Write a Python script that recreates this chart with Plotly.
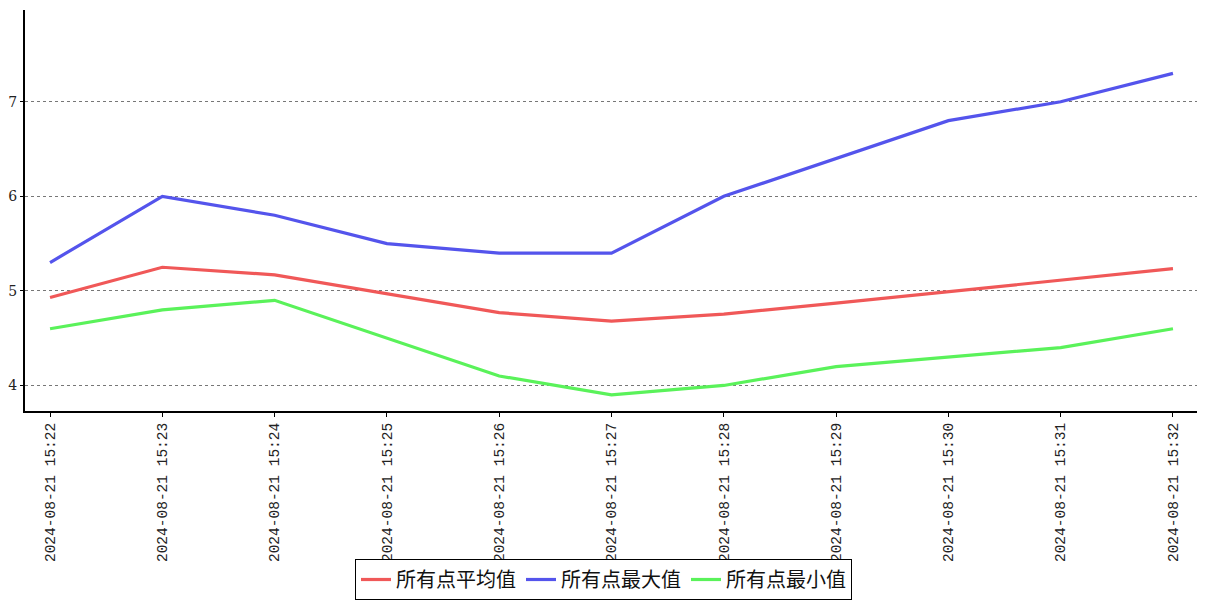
import plotly.graph_objects as go

times = ["15:22", "15:23", "15:24", "15:25", "15:26", "15:27", "15:28", "15:29", "15:30", "15:31", "15:32"]
date = "2024-08-21"
categories = [f"{date}\u00a0{t}" for t in times]

avg_vals = [4.93, 5.25, 5.17, 4.97, 4.77, 4.68, 4.755, 4.87, 4.99, 5.11, 5.235]
max_vals = [5.3, 6.0, 5.8, 5.5, 5.4, 5.4, 6.0, 6.4, 6.8, 7.0, 7.3]
min_vals = [4.6, 4.8, 4.9, 4.5, 4.1, 3.9, 4.0, 4.2, 4.3, 4.4, 4.6]

names = ["所有点平均值", "所有点最大值", "所有点最小值"]
colors = ["rgb(240,88,88)", "rgb(84,84,236)", "rgb(90,242,90)"]

fig = go.Figure()
for name, vals, c in zip(names, [avg_vals, max_vals, min_vals], colors):
    fig.add_trace(go.Scatter(x=list(range(len(categories))), y=vals, mode="lines", name=name,
                             line=dict(color=c, width=3.2)))

fig.update_layout(
    width=1207, height=600,
    margin=dict(l=25, r=10, t=10, b=189),
    plot_bgcolor="white", paper_bgcolor="white",
    font=dict(family="DejaVu Serif", size=13, color="#222"),
    showlegend=True,
    legend=dict(orientation="h", x=0.5, xanchor="center", xref="container",
                y=0.0, yanchor="bottom", yref="container",
                bordercolor="black", borderwidth=1,
                font=dict(family="Noto Sans CJK SC", size=20, color="#111"),
                itemwidth=30, tracegroupgap=0, itemclick=False),
)
fig.update_xaxes(
    range=[-0.223, 10.214], automargin=False,
    tickmode="array", tickvals=list(range(len(categories))), ticktext=categories,
    tickangle=-90, showgrid=False, zeroline=False,
    showline=True, linecolor="black", linewidth=2,
    ticks="outside", ticklen=4, tickcolor="black",
    tickfont=dict(family="Liberation Mono", size=14.5, color="#222"),
)
fig.update_yaxes(
    range=[3.73, 7.97], automargin=False,
    tickvals=[4, 5, 6, 7], showgrid=True, gridcolor="#777", griddash="dot", gridwidth=1,
    zeroline=False, showline=True, linecolor="black", linewidth=2,
    ticks="outside", ticklen=3, tickcolor="black",
    tickfont=dict(family="DejaVu Serif", size=14, color="#222"),
)

fig.write_html("out.html", config={"displayModeBar": False},
               post_script="document.body.style.margin='0';")
